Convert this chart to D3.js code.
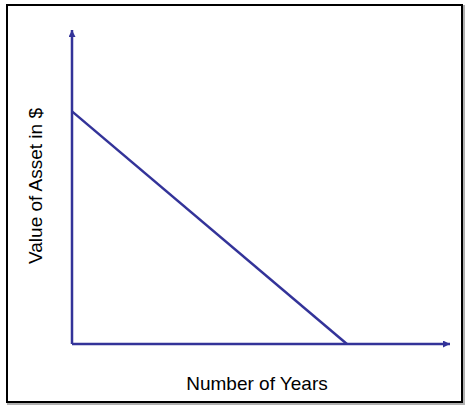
<!DOCTYPE html>
<html>
<head>
<meta charset="utf-8">
<script src="https://cdn.jsdelivr.net/npm/d3@7"></script>
<style>
html,body{margin:0;padding:0;background:#fff;}
svg{display:block;}
</style>
</head>
<body>
<svg id="chart" width="468" height="408"></svg>
<script>
// Data
const years = [0, 8];
const values = [100, 0];
const xAxisMax = 11;
const yAxisMax = 135;
const xLabel = "Number of Years";
const yLabel = "Value of Asset in $";

const svg = d3.select("#chart");
const color = "#333399";

// frame with shadow
svg.append("rect").attr("x", 8).attr("y", 6).attr("width", 456).attr("height", 398)
  .attr("fill", "none").attr("stroke", "#b0b0b0").attr("stroke-width", 2);
svg.append("rect").attr("x", 7).attr("y", 5).attr("width", 455).attr("height", 397)
  .attr("fill", "#fff").attr("stroke", "#000").attr("stroke-width", 2);

const x = d3.scaleLinear().domain([0, xAxisMax]).range([72, 450]);
const y = d3.scaleLinear().domain([0, yAxisMax]).range([344, 30]);

const defs = svg.append("defs");
defs.append("marker").attr("id", "arrow").attr("viewBox", "0 0 10 10")
  .attr("refX", 10).attr("refY", 5).attr("markerWidth", 8).attr("markerHeight", 7)
  .attr("markerUnits", "userSpaceOnUse").attr("orient", "auto")
  .append("path").attr("d", "M0,0 L10,5 L0,10 z").attr("fill", color);

// axes
svg.append("line").attr("x1", x(0)).attr("y1", y(0)).attr("x2", x(0)).attr("y2", y(yAxisMax))
  .attr("stroke", color).attr("stroke-width", 2.5).attr("marker-end", "url(#arrow)");
svg.append("line").attr("x1", x(0)).attr("y1", y(0)).attr("x2", x(xAxisMax)).attr("y2", y(0))
  .attr("stroke", color).attr("stroke-width", 2.5).attr("marker-end", "url(#arrow)");

// depreciation line
const pts = years.map((d, i) => [d, values[i]]);
svg.append("path").datum(pts)
  .attr("d", d3.line().x(d => x(d[0])).y(d => y(d[1])))
  .attr("fill", "none").attr("stroke", color).attr("stroke-width", 2.5);

// labels
svg.append("text").attr("x", 257).attr("y", 390).attr("text-anchor", "middle")
  .attr("font-family", "Liberation Sans, Arial, sans-serif").attr("font-size", 19)
  .attr("fill", "#000").text(xLabel);
svg.append("text").attr("transform", "translate(42,186) rotate(-90)").attr("text-anchor", "middle")
  .attr("font-family", "Liberation Sans, Arial, sans-serif").attr("font-size", 19)
  .attr("fill", "#000").text(yLabel);
</script>
</body>
</html>
